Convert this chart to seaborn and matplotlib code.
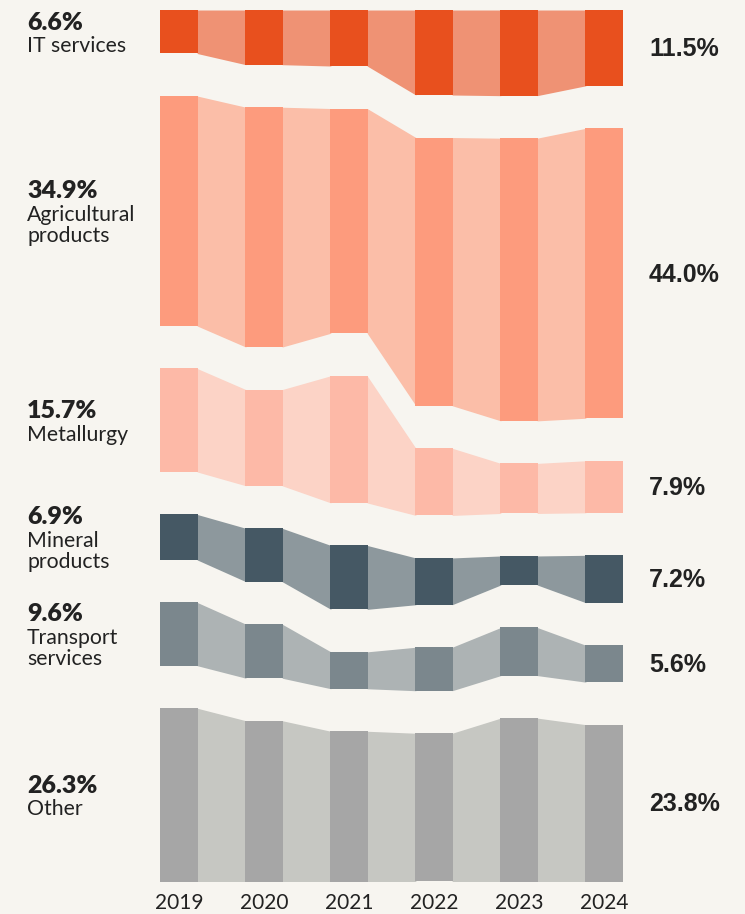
import numpy as np
import pandas as pd
import seaborn as sns
import matplotlib.pyplot as plt

# Share of exports by category (%)
years = ['2019', '2020', '2021', '2022', '2023', '2024']
categories = ['IT services', 'Agricultural\nproducts', 'Metallurgy',
              'Mineral\nproducts', 'Transport\nservices', 'Other']

it_services = [6.6, 8.3, 8.5, 12.9, 13.0, 11.5]
agricultural = [34.9, 36.4, 34.1, 40.7, 42.9, 44.0]
metallurgy = [15.7, 14.6, 19.3, 10.2, 7.6, 7.9]
mineral = [6.9, 8.1, 9.7, 7.1, 4.4, 7.2]
transport = [9.6, 8.2, 5.6, 6.6, 7.3, 5.6]
other = [26.3, 24.4, 22.8, 22.5, 24.8, 23.8]

bar_colors = ['#E8501E', '#FD9B7D', '#FDB9A7', '#455864', '#7B878D', '#A6A6A6']
band_colors = ['#EF9274', '#FBBEA8', '#FCD3C6', '#8D989D', '#ADB3B4', '#C6C7C2']

BG = '#F7F5F0'
TXT = '#222222'
GAP = 6.45      # vertical gap between categories, in share units
W = 0.447       # bar width

shares = pd.DataFrame([it_services, agricultural, metallurgy, mineral, transport, other],
                      index=categories, columns=years)

# top of every segment: cumulative share of the categories above + gaps
tops = shares.cumsum().shift(1, fill_value=0) + GAP * np.arange(len(categories))[:, None]

sns.set_theme(style='white', rc={'figure.facecolor': BG, 'axes.facecolor': BG})
plt.rcParams['font.family'] = ['Lato', 'DejaVu Sans']

fig = plt.figure(figsize=(7.45, 9.14), dpi=100)
ax = fig.add_axes([0, 1 - 881.5 / 914, 1, 871.5 / 914])

x = np.arange(len(years))
for i, cat in enumerate(categories):
    top = tops.iloc[i].values
    h = shares.iloc[i].values
    bot = top + h
    # connecting bands first, slightly overlapping the bars to hide seams
    for j in range(len(x) - 1):
        ax.fill_between([x[j] + W / 2 - 0.01, x[j + 1] - W / 2 + 0.01],
                        [top[j], top[j + 1]], [bot[j], bot[j + 1]],
                        color=band_colors[i], linewidth=0)
    ax.bar(x, h, bottom=top, width=W, color=bar_colors[i], linewidth=0, zorder=3)

    # left label (first year)
    c0 = top[0] + h[0] / 2
    lines = cat.split('\n')
    off = 2 + 10.75 * (len(lines) - 1)
    ax.annotate(f'{h[0]:.1f}%', (-1.788, c0), xytext=(0, off), textcoords='offset pixels',
                fontsize=18, fontweight='heavy', color=TXT, ha='left', va='baseline')
    for k, line in enumerate(lines):
        ax.annotate(line, (-1.788, c0), xytext=(0, off - 22.5 - 21 * k),
                    textcoords='offset pixels', fontsize=15.3, color=TXT,
                    ha='left', va='baseline')

    # right label (last year)
    c1 = top[-1] + h[-1] / 2
    ax.annotate(f'{h[-1]:.1f}%', (5.529, c1), xytext=(0, -8.3), textcoords='offset pixels',
                fontsize=18, fontweight='bold', color=TXT, ha='left', va='baseline',
                family=['Liberation Sans', 'DejaVu Sans'])

ax.set_xlim(-179 / 85, (745 - 179) / 85)
ax.set_ylim(100 + GAP * (len(categories) - 1), 0)
ax.set_xticks(x, years)
ax.set_yticks([])
ax.tick_params(axis='x', length=0, pad=8, labelsize=15, labelcolor=TXT)
sns.despine(ax=ax, left=True, bottom=True)

fig.savefig('out.png', dpi=100, facecolor=BG)
